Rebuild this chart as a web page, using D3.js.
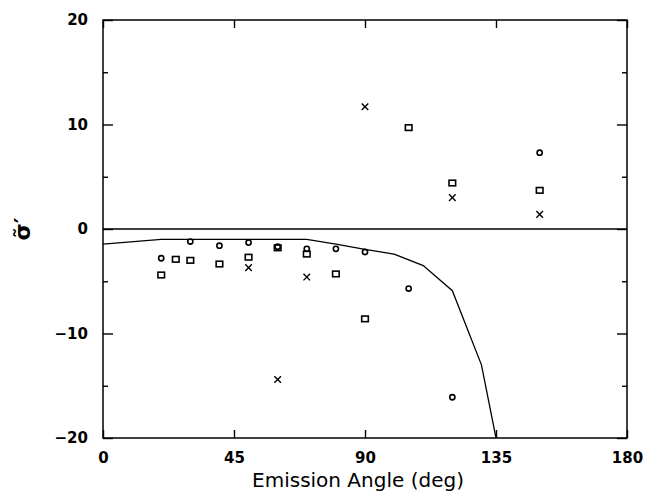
<!DOCTYPE html>
<html>
<head>
<meta charset="utf-8">
<script src="https://cdn.jsdelivr.net/npm/d3@7"></script>
<style>
  body { margin: 0; background: #fff; }
  svg text { fill: #000; }
</style>
</head>
<body>
<svg id="chart" width="645" height="495"></svg>
<script>
// data
const circleX = [20, 30, 40, 50, 60, 70, 80, 90, 105, 120, 150];
const circleY = [-2.8, -1.2, -1.6, -1.3, -1.7, -1.9, -1.9, -2.2, -5.7, -16.1, 7.3];

const squareX = [20, 25, 30, 40, 50, 60, 70, 80, 90, 105, 120, 150];
const squareY = [-4.4, -2.9, -3.0, -3.35, -2.7, -1.8, -2.4, -4.3, -8.6, 9.7, 4.4, 3.7];

const crossX = [50, 60, 70, 90, 120, 150];
const crossY = [-3.7, -14.4, -4.6, 11.7, 3.0, 1.4];

const curveX = [0, 20, 30, 40, 50, 60, 70, 80, 90, 100, 110, 120, 130, 135];
const curveY = [-1.45, -1.0, -1.0, -1.0, -1.0, -1.0, -1.0, -1.45, -1.95, -2.4, -3.5, -5.9, -13.0, -20];

const xTicks = [0, 45, 90, 135, 180];
const yTicks = [-20, -10, 0, 10, 20];
const yMinor = [-15, -5, 5, 15];

const svg = d3.select("#chart");
const mLeft = 103, mRight = 627, mTop = 20, mBottom = 438;

const x = d3.scaleLinear().domain([0, 180]).range([mLeft, mRight]);
const y = d3.scaleLinear().domain([-20, 20]).range([mBottom, mTop]);

const fontTick = "'DejaVu Sans', sans-serif";

// axes with inward ticks
const styleAxis = g => {
  g.select(".domain").remove();
  g.selectAll(".tick line").attr("stroke", "#000").attr("stroke-width", 1.4);
  g.selectAll(".tick text")
    .attr("font-family", fontTick).attr("font-weight", "bold").attr("font-size", 15);
};

svg.append("g").attr("transform", `translate(${mLeft},0)`)
  .call(d3.axisLeft(y).tickValues(yTicks).tickSize(-10).tickPadding(15))
  .call(styleAxis);
svg.append("g").attr("transform", `translate(${mLeft},0)`)
  .call(d3.axisLeft(y).tickValues(yMinor).tickSize(-5).tickFormat(""))
  .call(styleAxis);
svg.append("g").attr("transform", `translate(${mRight},0)`)
  .call(d3.axisRight(y).tickValues(yTicks).tickSize(-10).tickFormat(""))
  .call(styleAxis);
svg.append("g").attr("transform", `translate(${mRight},0)`)
  .call(d3.axisRight(y).tickValues(yMinor).tickSize(-5).tickFormat(""))
  .call(styleAxis);
svg.append("g").attr("transform", `translate(0,${mBottom})`)
  .call(d3.axisBottom(x).tickValues(xTicks).tickSize(-8).tickPadding(14))
  .call(styleAxis);
svg.append("g").attr("transform", `translate(0,${mTop})`)
  .call(d3.axisTop(x).tickValues(xTicks).tickSize(-8).tickFormat(""))
  .call(styleAxis);

// frame
svg.append("rect")
  .attr("x", mLeft).attr("y", mTop)
  .attr("width", mRight - mLeft).attr("height", mBottom - mTop)
  .attr("fill", "none").attr("stroke", "#000").attr("stroke-width", 1.5);

// zero line
svg.append("line")
  .attr("x1", mLeft).attr("x2", mRight)
  .attr("y1", y(0)).attr("y2", y(0))
  .attr("stroke", "#000").attr("stroke-width", 1.3);

// model curve
svg.append("defs").append("clipPath").attr("id", "clip")
  .append("rect").attr("x", mLeft).attr("y", mTop)
  .attr("width", mRight - mLeft).attr("height", mBottom - mTop);

const line = d3.line().x(d => x(d[0])).y(d => y(d[1]));
svg.append("path")
  .datum(d3.zip(curveX, curveY))
  .attr("clip-path", "url(#clip)")
  .attr("fill", "none")
  .attr("stroke", "#000")
  .attr("stroke-width", 1.3)
  .attr("d", line);

// markers
svg.append("g").selectAll("circle")
  .data(d3.zip(circleX, circleY))
  .join("circle")
  .attr("cx", d => x(d[0])).attr("cy", d => y(d[1]))
  .attr("r", 2.6)
  .attr("fill", "none").attr("stroke", "#000").attr("stroke-width", 1.6);

svg.append("g").selectAll("rect")
  .data(d3.zip(squareX, squareY))
  .join("rect")
  .attr("x", d => x(d[0]) - 3.3).attr("y", d => y(d[1]) - 2.8)
  .attr("width", 6.6).attr("height", 5.6)
  .attr("fill", "none").attr("stroke", "#000").attr("stroke-width", 1.6);

const cs = 3.3;
svg.append("g").selectAll("path")
  .data(d3.zip(crossX, crossY))
  .join("path")
  .attr("d", d => {
    const cx = x(d[0]), cy = y(d[1]);
    return `M${cx - cs},${cy - cs}L${cx + cs},${cy + cs}M${cx - cs},${cy + cs}L${cx + cs},${cy - cs}`;
  })
  .attr("stroke", "#000").attr("stroke-width", 1.4);

// axis titles
svg.append("text")
  .attr("x", (mLeft + mRight) / 2 - 7).attr("y", 487)
  .attr("text-anchor", "middle")
  .attr("font-family", "'DejaVu Sans', sans-serif")
  .attr("font-size", 20)
  .text("Emission Angle (deg)");

svg.append("text")
  .attr("transform", `translate(30,${y(0)}) rotate(-90)`)
  .attr("text-anchor", "middle")
  .attr("font-family", "'DejaVu Sans', sans-serif")
  .attr("font-weight", "bold")
  .attr("font-size", 22)
  .text("σ\u0303′");
</script>
</body>
</html>
